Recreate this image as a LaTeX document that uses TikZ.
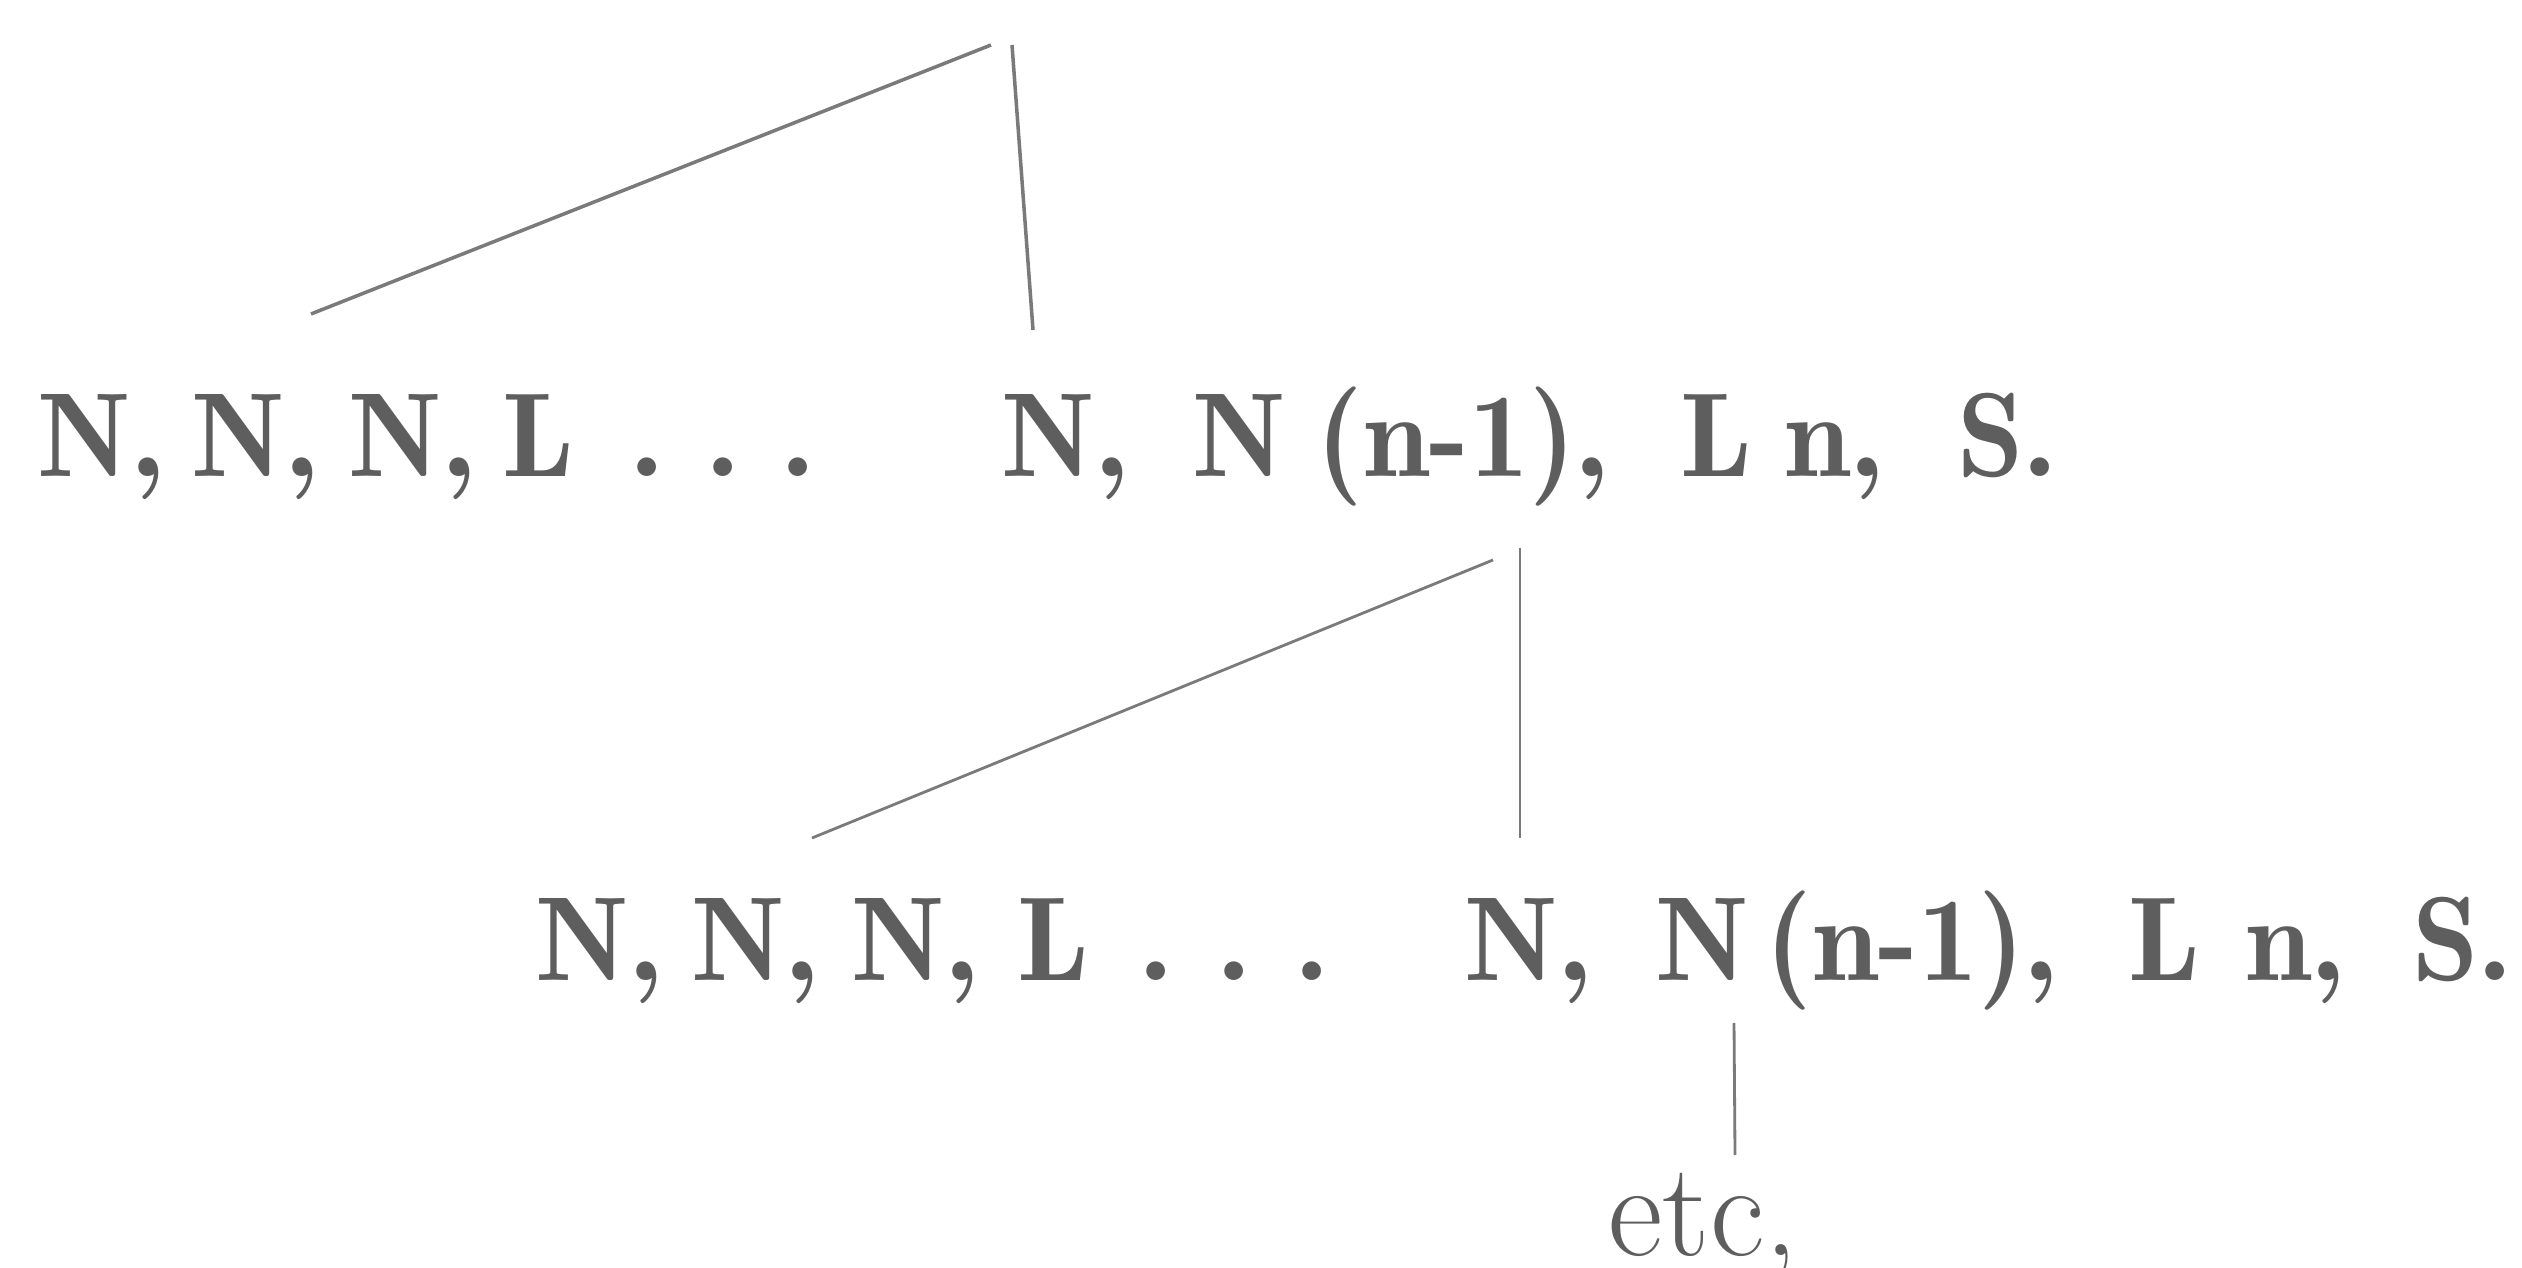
\documentclass[tikz,border=0pt]{standalone}
\usepackage{tikz}
\definecolor{inkgray}{HTML}{5E5E5E}
\definecolor{linegray}{HTML}{7A7A7A}
\newcommand{\tk}[2]{\makebox[#1cm][l]{#2}}
\begin{document}
\begin{tikzpicture}[x=0.01cm,y=-0.01cm,
  rowtext/.style={anchor=base west,inner sep=0pt,text=inkgray,
    font=\fontsize{34}{40}\fontseries{b}\selectfont},
  etctext/.style={anchor=base west,inner sep=0pt,text=inkgray,
    font=\fontsize{38}{44}\selectfont},
  branch/.style={draw=linegray,line width=1pt},
  thinbranch/.style={draw=linegray,line width=0.8pt}]
\useasboundingbox (0,0) rectangle (2522,1268);
% level 1
\coordinate (a1l) at (991,45);
\coordinate (a1v) at (1012,45);
\coordinate (e1l) at (311,314);
\coordinate (e1v) at (1033,330);
\node[rowtext] (r1l) at (37,477) {\tk{1.54}{N,}\tk{1.57}{N,}\tk{1.54}{N,}\tk{1.28}{L}\tk{0.75}{.}\tk{0.75}{.}.};
\node[rowtext] (r1r) at (1001,477) {\tk{1.91}{N,}\tk{1.24}{N}\tk{3.63}{(n-1),}\tk{1.04}{L}\tk{1.73}{n,}S.};
% level 2
\coordinate (a2l) at (1493,560);
\coordinate (a2v) at (1520,548);
\coordinate (e2l) at (812,838);
\coordinate (e2v) at (1520,838);
\node[rowtext] (r2l) at (535,981) {\tk{1.56}{N,}\tk{1.60}{N,}\tk{1.66}{N,}\tk{1.21}{L}\tk{0.78}{.}\tk{0.78}{.}.};
\node[rowtext] (r2r) at (1464,981) {\tk{1.91}{N,}\tk{1.10}{N}\tk{3.62}{(n-1),}\tk{1.17}{L}\tk{1.67}{n,}S.};
% level 3
\coordinate (a3v) at (1734,1023);
\coordinate (e3v) at (1735,1155);
\node[etctext] (etc) at (1608,1255) {etc,};
\draw[branch] (a1l) -- (e1l);
\draw[branch] (a1v) -- (e1v);
\draw[thinbranch] (a2l) -- (e2l);
\draw[thinbranch] (a2v) -- (e2v);
\draw[thinbranch] (a3v) -- (e3v);
\end{tikzpicture}
\end{document}
